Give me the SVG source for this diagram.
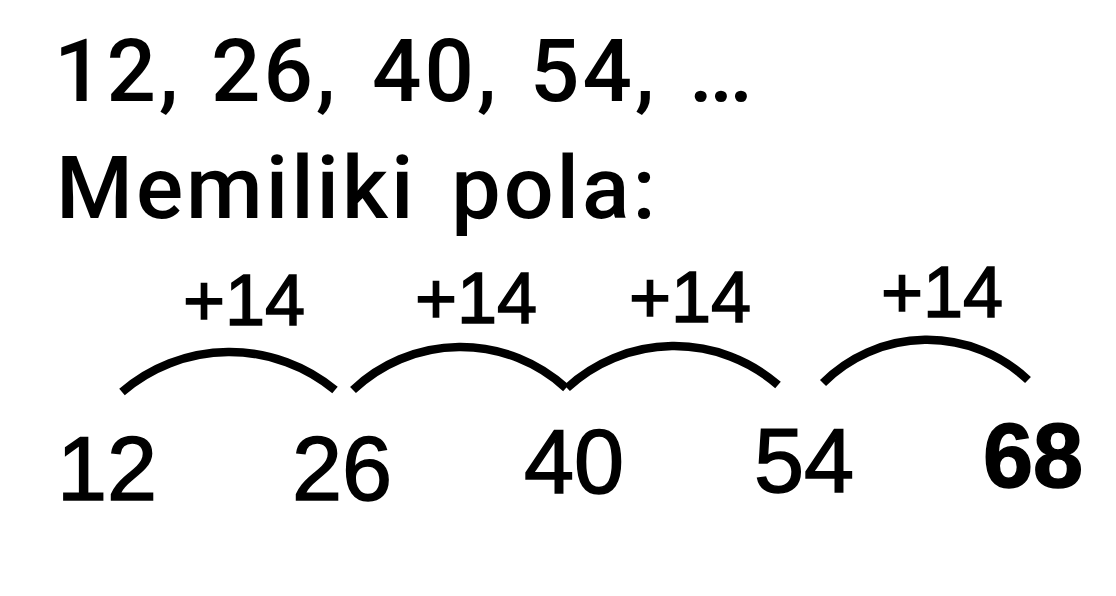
<svg xmlns="http://www.w3.org/2000/svg" width="1116" height="596" viewBox="0 0 1116 596">
<style>
.hd{font-family:Roboto,"Liberation Sans",sans-serif;font-weight:500;fill:#000}
.lbl{font-family:"Liberation Sans",Arial,sans-serif;font-size:72px;fill:#000;stroke:#000;stroke-width:1.5}
.num{font-family:"Liberation Sans",Arial,sans-serif;font-size:90px;fill:#000;stroke:#000;stroke-width:1.5}
.arc{fill:none;stroke:#000;stroke-width:8.5;stroke-linecap:butt}
</style>
<rect width="1116" height="596" fill="#fff"/>
<g id="title">
<text class="hd" font-size="87" y="101" letter-spacing="3"><tspan x="54">12,</tspan><tspan x="211">26,</tspan><tspan x="372">40,</tspan><tspan x="530">54,</tspan><tspan x="689" letter-spacing="-4">...</tspan></text>
<text class="hd" font-size="88" x="56" y="218" letter-spacing="3" word-spacing="10">Memiliki pola:</text>
</g>
<g id="connectors">
<path class="arc" d="M122,392 A165,165 0 0 1 335,390"/>
<path class="arc" d="M353,390 A156,156 0 0 1 566,388"/>
<path class="arc" d="M567,388 A158,158 0 0 1 778,385"/>
<path class="arc" d="M823,383 A147,147 0 0 1 1028,380"/>
</g>
<g id="step1"><text class="lbl" x="183" y="325">+14</text></g>
<g id="step2"><text class="lbl" x="415" y="323">+14</text></g>
<g id="step3"><text class="lbl" x="629" y="322">+14</text></g>
<g id="step4"><text class="lbl" x="881" y="317">+14</text></g>
<g id="n12"><text class="num" x="57" y="500">12</text></g>
<g id="n26"><text class="num" x="292" y="500">26</text></g>
<g id="n40"><text class="num" x="524" y="493">40</text></g>
<g id="n54"><text class="num" x="754" y="492">54</text></g>
<g id="n68"><text class="num" x="983" y="487" font-weight="bold" font-size="89">68</text></g>
</svg>
